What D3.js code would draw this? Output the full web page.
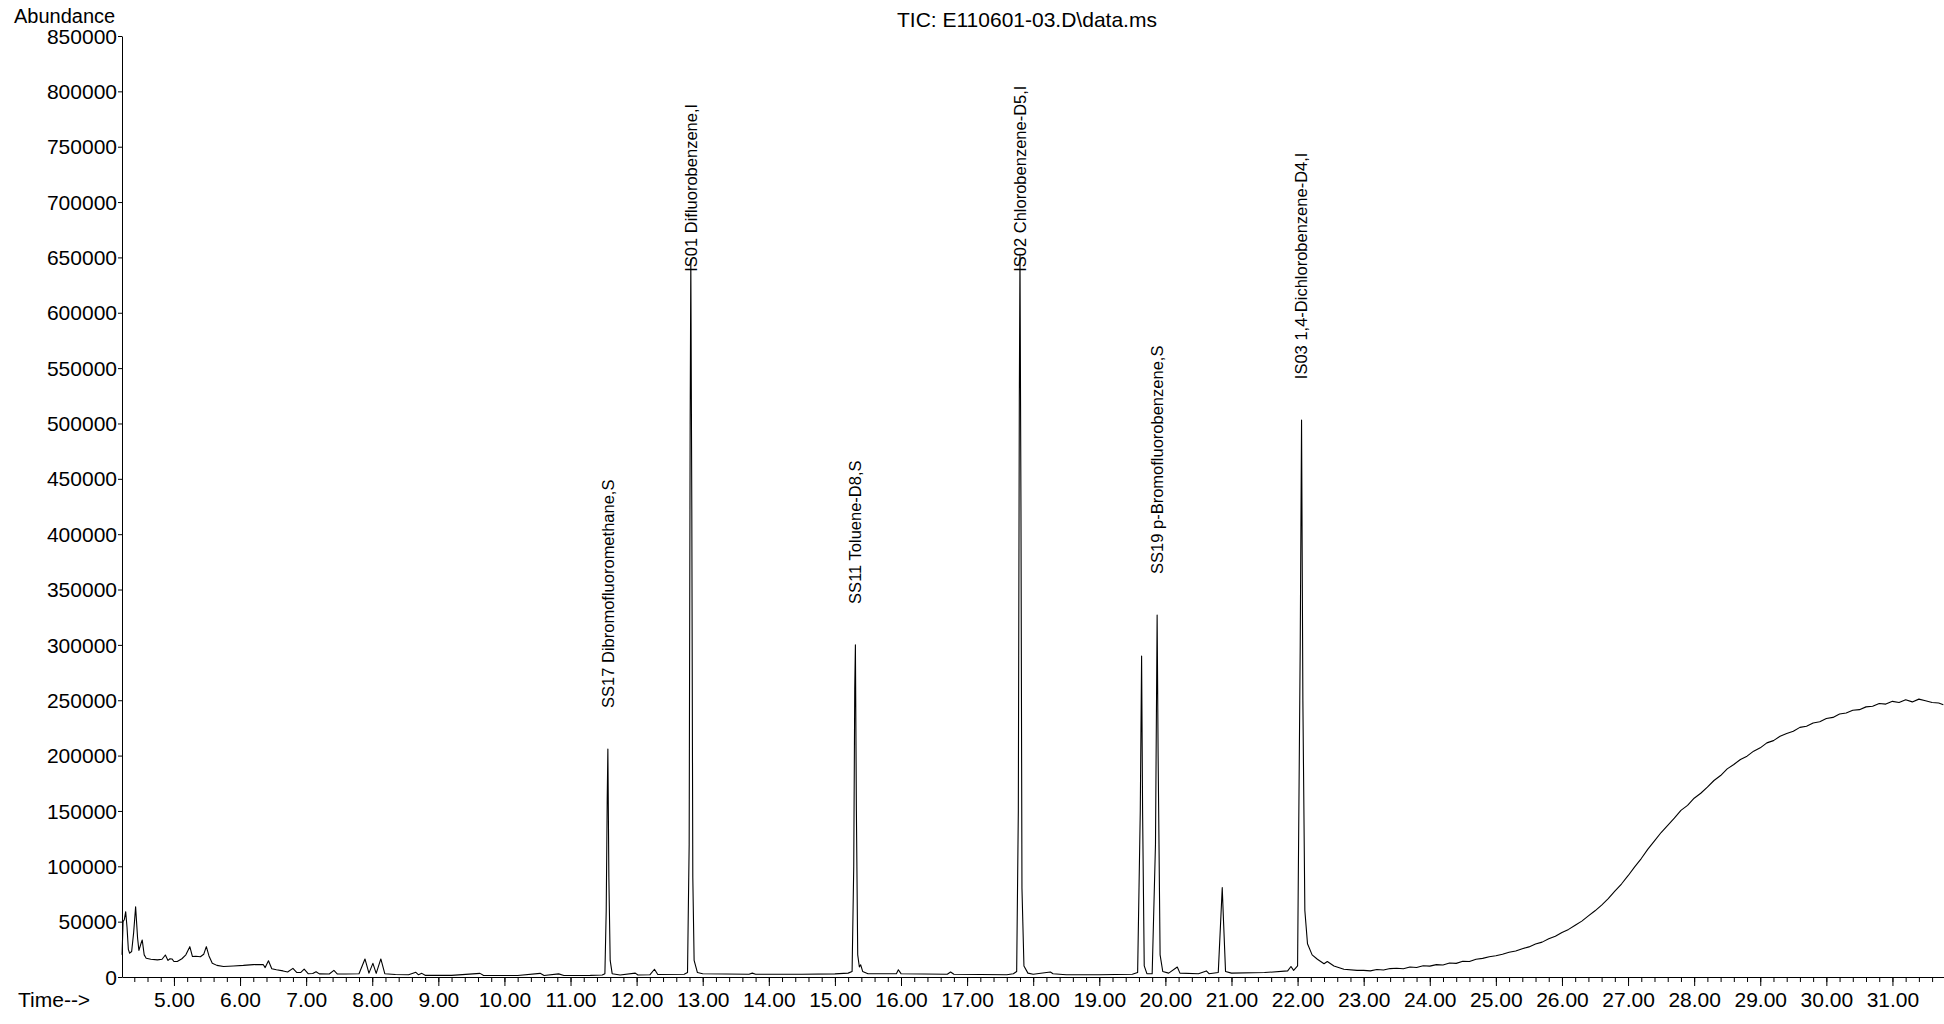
<!DOCTYPE html>
<html>
<head>
<meta charset="utf-8">
<script src="https://cdn.jsdelivr.net/npm/d3@7"></script>
<style>
  html, body { margin: 0; padding: 0; background: #fff; }
  svg { display: block; }
  text { font-family: "Liberation Sans", Arial, sans-serif; fill: #000; }
</style>
</head>
<body>
<svg id="chart" width="1944" height="1024"></svg>
<script>
// Total ion chromatogram: retention time (min) and abundance
const timeMin = [
  4.215, 4.23, 4.25, 4.27, 4.29, 4.31, 4.33, 4.36, 4.39, 4.42, 4.45, 4.47, 4.50, 4.52, 4.55, 4.58,
  4.65, 4.75, 4.82, 4.87, 4.91, 4.94, 4.97, 5.00, 5.05, 5.12, 5.18, 5.24, 5.28, 5.33, 5.40, 5.45,
  5.49, 5.53, 5.58, 5.65, 5.75, 5.90, 6.05, 6.20, 6.35, 6.38, 6.43, 6.48, 6.55, 6.65, 6.72, 6.80,
  6.86, 6.92, 6.97, 7.03, 7.10, 7.15, 7.20, 7.35, 7.42, 7.47, 7.60, 7.80, 7.89, 7.95, 8.01, 8.06,
  8.13, 8.19, 8.35, 8.55, 8.66, 8.70, 8.75, 8.80, 9.20, 9.63, 9.68, 10.20, 10.54, 10.60, 10.82, 10.90,
  11.30, 11.48, 11.52, 11.54, 11.555, 11.565, 11.58, 11.60, 11.63, 11.75, 11.98, 12.02, 12.20, 12.27, 12.32, 12.72,
  12.77, 12.795, 12.81, 12.82, 12.835, 12.85, 12.87, 12.92, 13.00, 13.70, 13.75, 13.80, 14.50, 15.00, 15.20, 15.26,
  15.285, 15.30, 15.31, 15.325, 15.345, 15.37, 15.39, 15.42, 15.50, 15.93, 15.96, 16.00, 16.70, 16.75, 16.80, 17.60,
  17.70, 17.75, 17.775, 17.79, 17.80, 17.815, 17.83, 17.86, 17.92, 18.00, 18.26, 18.30, 18.50, 19.00, 19.50, 19.58,
  19.62, 19.64, 19.655, 19.68, 19.72, 19.80, 19.85, 19.875, 19.89, 19.92, 19.96, 20.05, 20.18, 20.22, 20.50, 20.62,
  20.66, 20.80, 20.84, 20.86, 20.88, 20.91, 21.00, 21.50, 21.85, 21.90, 21.94, 22.00, 22.04, 22.06, 22.08, 22.11,
  22.15, 22.22, 22.30, 22.40, 22.45, 22.55, 22.70, 22.90,
  23.0, 23.1, 23.2, 23.3, 23.4, 23.5, 23.6, 23.7, 23.8, 23.9, 24.0, 24.1, 24.2, 24.3, 24.4, 24.5,
  24.6, 24.7, 24.8, 24.9, 25.0, 25.1, 25.2, 25.3, 25.4, 25.5, 25.6, 25.7, 25.8, 25.9, 26.0, 26.1,
  26.2, 26.3, 26.4, 26.5, 26.6, 26.7, 26.8, 26.9, 27.0, 27.1, 27.2, 27.3, 27.4, 27.5, 27.6, 27.7,
  27.8, 27.9, 28.0, 28.1, 28.2, 28.3, 28.4, 28.5, 28.6, 28.7, 28.8, 28.9, 29.0, 29.1, 29.2, 29.3,
  29.4, 29.5, 29.6, 29.7, 29.8, 29.9, 30.0, 30.1, 30.2, 30.3, 30.4, 30.5, 30.6, 30.7, 30.8, 30.9,
  31.0, 31.1, 31.2, 31.3, 31.4, 31.5, 31.6, 31.7, 31.77
];
const abundance = [
  20000, 50000, 52000, 59000, 45000, 25000, 21500, 23000, 40000, 63500, 35000, 24000, 30000, 33400, 20000, 17000,
  16000, 15500, 16000, 19900, 15000, 16500, 16300, 14000, 14000, 16500, 20000, 27400, 18500, 18800, 18300, 20500,
  27400, 19000, 12500, 10500, 9500, 10000, 10500, 11200, 11300, 8500, 14700, 7500, 6500, 5500, 4500, 7800,
  4000, 4200, 7200, 3000, 3200, 4800, 2800, 2700, 6000, 2800, 2700, 2900, 16300, 3500, 12300, 3300,
  16300, 3000, 2300, 2000, 4200, 2000, 3300, 1500, 1500, 3300, 1500, 1300, 3300, 1400, 2800, 1400,
  1500, 1800, 3000, 60000, 160000, 206000, 90000, 15000, 3000, 1800, 3500, 1800, 2000, 7000, 2200, 2500,
  4000, 120000, 500000, 648000, 420000, 90000, 15000, 4000, 3000, 2500, 3500, 2500, 2500, 2800, 3500, 5000,
  100000, 260000, 300000, 150000, 20000, 9000, 11000, 5000, 3000, 3000, 6500, 3000, 2500, 4500, 2500, 2000,
  3000, 5000, 150000, 520000, 653000, 420000, 80000, 10000, 3500, 2500, 4500, 3000, 2000, 2000, 2500, 4000,
  150000, 290000, 150000, 10000, 3000, 3000, 120000, 327000, 200000, 20000, 5000, 3500, 9000, 3500, 3000, 5500,
  3000, 4000, 55000, 80700, 50000, 5000, 3500, 4000, 5500, 9500, 6000, 10000, 300000, 503000, 250000, 60000,
  30000, 20000, 16000, 12000, 14000, 10000, 7000, 6000,
  6000, 5500, 6800, 6300, 7600, 7900, 7400, 9000, 8600, 10200, 9800, 11200, 10800, 12600, 12300, 14200,
  14000, 16100, 16800, 18300, 19200, 20600, 22300, 23500, 25600, 27200, 29800, 31500, 34500, 36800, 40200, 43000,
  46800, 50500, 55200, 59800, 65000, 70800, 77500, 84000, 91500, 99500, 107000, 115500, 123000, 130500, 137000, 143500,
  150500, 155000, 161500, 166000, 171500, 177500, 182000, 188000, 192000, 196500, 199500, 204000, 207000, 211500, 213500, 217500,
  220000, 222000, 225500, 226500, 229500, 230500, 233500, 234500, 237500, 238500, 241000, 241500, 244000, 244500, 247000, 246500,
  249000, 248000, 250500, 248500, 251000, 249500, 248000, 247500, 246000
];

// Identified compounds: apex time, apex abundance and name
const peakTimes   = [11.565, 12.82, 15.31, 17.80, 19.875, 22.06];
const peakHeights = [206000, 648000, 300000, 653000, 327000, 503000];
const peakNames   = [
  "SS17 Dibromofluoromethane,S",
  "IS01 Difluorobenzene,I",
  "SS11 Toluene-D8,S",
  "IS02 Chlorobenzene-D5,I",
  "SS19 p-Bromofluorobenzene,S",
  "IS03 1,4-Dichlorobenzene-D4,I"
];

// Axis ticks
const yTicks = d3.range(0, 850001, 50000);
const xMajorTicks = d3.range(5, 32, 1);
const xMinorTicks = d3.range(4.4, 31.8, 0.2).map(v => +v.toFixed(1));

const titleText = "TIC: E110601-03.D\\data.ms";

const svg = d3.select("#chart");
const FONT = 21;

const x = d3.scaleLinear().domain([4.214, 31.78]).range([122, 1944]);
const y = d3.scaleLinear().domain([0, 850000]).range([977, 36]);

// Y axis
const yAxis = svg.append("g")
  .attr("transform", `translate(${x.range()[0]},0)`)
  .call(d3.axisLeft(y).tickValues(yTicks).tickSize(4).tickSizeOuter(0).tickPadding(1).tickFormat(d3.format("d")));
yAxis.selectAll("text").style("font-size", FONT + "px").attr("dy", "0.34em");
yAxis.selectAll("line, path").attr("stroke", "#000").attr("stroke-width", 1);

// X axis: minor ticks then labelled minute ticks
const xMinor = svg.append("g")
  .attr("transform", `translate(0,${y(0)})`)
  .call(d3.axisBottom(x).tickValues(xMinorTicks).tickSize(5).tickSizeOuter(0).tickFormat(""));
xMinor.selectAll("line, path").attr("stroke", "#000").attr("stroke-width", 1);

const xMajor = svg.append("g")
  .attr("transform", `translate(0,${y(0)})`)
  .call(d3.axisBottom(x).tickValues(xMajorTicks).tickSize(9).tickSizeOuter(0).tickPadding(6)
    .tickFormat(d => d.toFixed(2)));
xMajor.select("path").remove();
xMajor.selectAll("line").attr("stroke", "#000").attr("stroke-width", 1);
xMajor.selectAll("text").style("font-size", FONT + "px");

// Axis captions and title
svg.append("text").attr("x", 14).attr("y", 23).style("font-size", "20px").text("Abundance");
svg.append("text").attr("x", 18).attr("y", 1007).style("font-size", FONT + "px").text("Time-->");
svg.append("text").attr("x", 897).attr("y", 27).style("font-size", FONT + "px").text(titleText);

// Trace
const line = d3.line()
  .x((d, i) => x(timeMin[i]))
  .y(d => y(d));
svg.append("path")
  .datum(abundance)
  .attr("d", line)
  .attr("fill", "none")
  .attr("stroke", "#000")
  .attr("stroke-width", 1.1)
  .attr("stroke-linejoin", "round");

// Compound labels, rotated, sitting above each apex (capped near the top)
const labelCap = 600000;
svg.append("g").selectAll("text")
  .data(peakNames)
  .join("text")
  .attr("transform", (d, i) => `translate(${x(peakTimes[i])},${y(Math.min(peakHeights[i], labelCap)) - 41}) rotate(-90)`)
  .attr("dy", "0.35em")
  .style("font-size", "16.5px")
  .text(d => d);
</script>
</body>
</html>
